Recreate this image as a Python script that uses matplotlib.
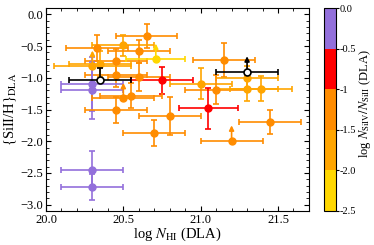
import numpy as np
import matplotlib
matplotlib.use('Agg')
import matplotlib.pyplot as plt
from matplotlib.colors import ListedColormap, BoundaryNorm
from matplotlib.ticker import MultipleLocator

plt.rcParams['font.family'] = ['Liberation Serif', 'DejaVu Serif']
plt.rcParams['mathtext.fontset'] = 'stix'

# measured DLAs: log N_HI, [SiII/H], errors, and log N_SiIV/N_SiII (colour)
log_nhi = [20.65, 20.50, 20.33, 20.60, 20.45, 20.35, 20.45, 20.60, 20.75, 20.30,
           20.30, 20.55, 20.45, 20.80, 20.70, 21.15, 21.30, 21.00, 21.10, 21.30,
           21.39, 21.05, 21.45, 20.30, 20.30]
nhi_err = [0.20, 0.20, 0.20, 0.20, 0.20, 0.20, 0.20, 0.20, 0.20, 0.20,
           0.20, 0.20, 0.20, 0.20, 0.20, 0.20, 0.20, 0.20, 0.20, 0.20,
           0.20, 0.19, 0.20, 0.20, 0.20]
sih = [-0.34, -0.49, -0.53, -0.58, -0.74, -0.78, -0.95, -0.99, -1.04, -1.10,
       -1.20, -1.28, -1.51, -1.60, -1.87, -0.72, -1.01, -1.09, -1.19, -1.17,
       -1.17, -1.48, -1.69, -2.46, -2.72]
sih_err = [0.19, 0.17, 0.20, 0.18, 0.20, 0.20, 0.20, 0.22, 0.21, 0.43,
           0.45, 0.20, 0.20, 0.30, 0.21, 0.27, 0.20, 0.24, 0.23, 0.20,
           0.20, 0.32, 0.19, 0.30, 0.21]
ratio = [-1.2, -1.7, -1.2, -1.2, -1.2, -1.7, -1.2, -1.2, -0.7, -0.2,
         -0.2, -1.2, -1.2, -1.2, -1.2, -1.2, -1.7, -1.7, -1.2, -1.7,
         -1.7, -0.7, -1.2, -0.2, -0.2]

# lower limits on [SiII/H]
lim_nhi = [20.71, 20.30, 20.50, 21.20]
lim_err = [0.19, 0.25, 0.20, 0.20]
lim_sih = [-0.70, -0.81, -1.32, -1.99]
lim_ratio = [-2.2, -1.7, -1.2, -1.2]

# no SiIV measurement (open symbols)
open_nhi = [20.35, 21.30]
open_err = [0.20, 0.20]
open_sih = [-1.04, -0.91]

cb_bounds = [-2.5, -2.0, -1.5, -1.0, -0.5, 0.0]
cb_colors = ['#FFD700', '#FFA500', '#FF8C00', '#FF0000', '#9370DB']
cb_labels = ['-2.5', '-2.0', '-1.5', '-1', '-0.5', '0.0']

cmap = ListedColormap(cb_colors)
norm = BoundaryNorm(cb_bounds, cmap.N)

fig = plt.figure(figsize=(3.74, 2.45), dpi=100)
ax = fig.add_axes([0.123, 0.139, 0.703, 0.828])
cax = fig.add_axes([0.866, 0.139, 0.032, 0.828])

for i in range(len(log_nhi)):
    c = cmap(norm(ratio[i]))
    ax.errorbar(log_nhi[i], sih[i], xerr=nhi_err[i], yerr=sih_err[i], fmt='o',
                color=c, ms=5, lw=1.2, capsize=2.5, capthick=1.2)

for i in range(len(lim_nhi)):
    c = cmap(norm(lim_ratio[i]))
    ax.errorbar(lim_nhi[i], lim_sih[i], xerr=lim_err[i], fmt='o',
                color=c, ms=5, lw=1.2, capsize=2.5, capthick=1.2)
    ax.annotate('', xy=(lim_nhi[i], lim_sih[i] + 0.24), xytext=(lim_nhi[i], lim_sih[i]),
                arrowprops=dict(arrowstyle='-|>', color=c, lw=1.2,
                                mutation_scale=7, shrinkA=0, shrinkB=0))

# open points: one with an upper bar, one lower limit
ax.errorbar(open_nhi[0], open_sih[0], xerr=open_err[0], yerr=[[0.0], [0.2]], fmt='o',
            mfc='white', mec='black', mew=1.2, color='black', ms=5, lw=1.2,
            capsize=2.5, capthick=1.2, zorder=5)
ax.annotate('', xy=(open_nhi[1], open_sih[1] + 0.25), xytext=(open_nhi[1], open_sih[1]),
            arrowprops=dict(arrowstyle='-|>', color='black', lw=1.2,
                            mutation_scale=7, shrinkA=0, shrinkB=0), zorder=5)
ax.errorbar(open_nhi[1], open_sih[1], xerr=open_err[1], fmt='o',
            mfc='white', mec='black', mew=1.2, color='black', ms=5, lw=1.2,
            capsize=2.5, capthick=1.2, zorder=5)

ax.set_xlim(20.0, 21.7)
ax.set_ylim(-3.1, 0.1)
ax.xaxis.set_major_locator(MultipleLocator(0.5))
ax.xaxis.set_minor_locator(MultipleLocator(0.1))
ax.yaxis.set_major_locator(MultipleLocator(0.5))
ax.yaxis.set_minor_locator(MultipleLocator(0.1))
ax.tick_params(which='both', direction='in', top=True, right=True, labelsize=9, pad=2)
ax.tick_params(which='major', length=3.5)
ax.tick_params(which='minor', length=2)
ax.set_xlabel(r'log $N_{\rm HI}$ (DLA)', fontsize=10.5, labelpad=0)
ax.set_ylabel(r'{SiII/H}$_{\rm DLA}$', fontsize=10.5, labelpad=1)

sm = matplotlib.cm.ScalarMappable(cmap=cmap, norm=norm)
cb = fig.colorbar(sm, cax=cax, ticks=cb_bounds)
cb.ax.set_yticklabels(cb_labels)
cb.ax.tick_params(labelsize=7.5, length=2, pad=1)
cb.outline.set_linewidth(0.8)
cb.set_label(r'log $N_{\rm SiIV}/N_{\rm SiII}$ (DLA)', fontsize=9)
cb.ax.yaxis.set_label_coords(2.8, 0.53)

fig.savefig('out.png', dpi=100)
